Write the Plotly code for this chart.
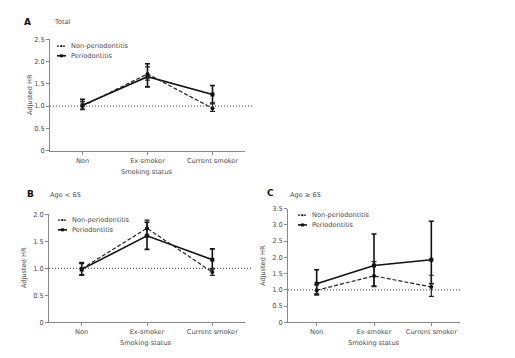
import plotly.graph_objects as go

categories = ["Non", "Ex-smoker", "Current smoker"]

# Panel A: Total
a_nonperio = [1.00, 1.72, 0.95]
a_nonperio_lo = [0.92, 1.58, 0.88]
a_nonperio_hi = [1.10, 1.88, 1.05]
a_perio = [1.02, 1.66, 1.26]
a_perio_lo = [0.93, 1.43, 1.07]
a_perio_hi = [1.15, 1.95, 1.46]

# Panel B: Age < 65
b_nonperio = [0.99, 1.74, 0.93]
b_nonperio_lo = [0.87, 1.60, 0.87]
b_nonperio_hi = [1.11, 1.89, 1.00]
b_perio = [0.98, 1.60, 1.16]
b_perio_lo = [0.88, 1.35, 0.99]
b_perio_hi = [1.09, 1.85, 1.36]

# Panel C: Age >= 65
c_nonperio = [0.99, 1.43, 1.09]
c_nonperio_lo = [0.84, 1.10, 0.80]
c_nonperio_hi = [1.16, 1.87, 1.45]
c_perio = [1.19, 1.75, 1.93]
c_perio_lo = [0.87, 1.12, 1.19]
c_perio_hi = [1.62, 2.72, 3.11]

a_yticks = [0, 0.5, 1.0, 1.5, 2.0, 2.5]
b_yticks = [0, 0.5, 1.0, 1.5, 2.0]
c_yticks = [0, 0.5, 1.0, 1.5, 2.0, 2.5, 3.0, 3.5]

FONT = "DejaVu Sans"
TXT = "#4a4a4a"
FS = 6.6
W, H = 515, 358

fig = go.Figure()

panels = [
    ("x", "y", a_nonperio, a_nonperio_lo, a_nonperio_hi, a_perio, a_perio_lo, a_perio_hi),
    ("x2", "y2", b_nonperio, b_nonperio_lo, b_nonperio_hi, b_perio, b_perio_lo, b_perio_hi),
    ("x3", "y3", c_nonperio, c_nonperio_lo, c_nonperio_hi, c_perio, c_perio_lo, c_perio_hi),
]

for xa, ya, np_, np_lo, np_hi, p, p_lo, p_hi in panels:
    idx = list(range(len(categories)))
    fig.add_trace(go.Scatter(
        x=idx, y=p, xaxis=xa, yaxis=ya, mode="lines+markers",
        line=dict(color="#111111", width=1.6, dash="solid"),
        marker=dict(symbol="square", size=4, color="#111111"),
        error_y=dict(type="data", symmetric=False,
                     array=[h - v for h, v in zip(p_hi, p)],
                     arrayminus=[v - l for v, l in zip(p, p_lo)],
                     color="#111111", thickness=1.6, width=2.5),
        showlegend=False, hoverinfo="skip"))
    fig.add_trace(go.Scatter(
        x=idx, y=np_, xaxis=xa, yaxis=ya, mode="lines+markers",
        line=dict(color="#222222", width=1.2, dash="4px,2px"),
        marker=dict(symbol="circle", size=4, color="#111111"),
        error_y=dict(type="data", symmetric=False,
                     array=[h - v for h, v in zip(np_hi, np_)],
                     arrayminus=[v - l for v, l in zip(np_, np_lo)],
                     color="#222222", thickness=1.2, width=2.5),
        showlegend=False, hoverinfo="skip"))

def px_x(v):
    return v / W

def px_y(v):
    return 1 - v / H

axis_common = dict(showgrid=False, zeroline=False, showline=True, linecolor="#888888",
                   linewidth=1, ticks="outside", ticklen=3, tickcolor="#888888",
                   tickfont=dict(family=FONT, size=FS, color=TXT))

dA_x = [px_x(50), px_x(245)]
dA_y = [px_y(150), px_y(36)]
dB_x = [px_x(49), px_x(245)]
dB_y = [px_y(325.7), px_y(215)]
dC_x = [px_x(288), px_x(460)]
dC_y = [px_y(325.7), px_y(209.3)]

xcommon = dict(axis_common, tickmode="array", tickvals=[0, 1, 2], ticktext=categories,
               range=[-0.5, 2.5])

fig.update_layout(
    width=W, height=H, margin=dict(l=0, r=0, t=0, b=0),
    paper_bgcolor="white", plot_bgcolor="white",
    font=dict(family=FONT, size=FS, color=TXT),
    xaxis=dict(xcommon, domain=dA_x, anchor="y"),
    yaxis=dict(axis_common, domain=dA_y, anchor="x", range=[0, 2.5], tickvals=a_yticks,
               ticktext=["0", "0.5", "1.0", "1.5", "2.0", "2.5"]),
    xaxis2=dict(xcommon, domain=dB_x, anchor="y2"),
    yaxis2=dict(axis_common, domain=dB_y, anchor="x2", range=[0, 2.0], tickvals=b_yticks,
                ticktext=["0", "0.5", "1.0", "1.5", "2.0"]),
    xaxis3=dict(xcommon, domain=dC_x, anchor="y3"),
    yaxis3=dict(axis_common, domain=dC_y, anchor="x3", range=[0, 3.5], tickvals=c_yticks,
                ticktext=["0", "0.5", "1.0", "1.5", "2.0", "2.5", "3.0", "3.5"]),
)

# reference lines at HR = 1
for xr, yr, ext in [("x", "y", 1.04), ("x2", "y2", 1.04), ("x3", "y3", 1.0)]:
    fig.add_shape(type="line", xref=f"{xr} domain", yref=yr, x0=0, x1=ext, y0=1, y1=1,
                  line=dict(color="#333333", width=1, dash="1px,2px"))

# axis titles
for t, x, y, ang in [("Adjusted HR", 30, 93, -90), ("Adjusted HR", 24, 270, -90),
                     ("Adjusted HR", 263, 268, -90),
                     ("Smoking status", 147, 172, 0), ("Smoking status", 146, 347, 0),
                     ("Smoking status", 374, 347, 0)]:
    fig.add_annotation(text=t, xref="paper", yref="paper", x=px_x(x), y=px_y(y),
                       showarrow=False, xanchor="center", yanchor="middle", textangle=ang,
                       font=dict(family=FONT, size=FS, color=TXT))

# panel letters and subtitles
annots = [
    ("A", 22, 18, True), ("Total", 52, 18, False),
    ("B", 25, 194, True), ("Age < 65", 48, 195, False),
    ("C", 265, 193, True), ("Age ≥ 65", 288, 195, False),
]
for t, x, y, bold in annots:
    fig.add_annotation(text=f"<b>{t}</b>" if bold else t, xref="paper", yref="paper",
                       x=px_x(x), y=px_y(y), showarrow=False, xanchor="left", yanchor="middle",
                       font=dict(family=FONT, size=9 if bold else FS, color="#111111" if bold else TXT))

# legends (manual, per panel)
legend_pos = [(57, 43, 53), (58, 221, 231), (298, 216, 226)]
for lx, y1, y2 in legend_pos:
    fig.add_shape(type="line", xref="paper", yref="paper", x0=px_x(lx), x1=px_x(lx + 9),
                  y0=px_y(y1), y1=px_y(y1), line=dict(color="#222222", width=1.2, dash="2px,1px"))
    fig.add_shape(type="circle", xref="paper", yref="paper", x0=px_x(lx + 3.5), x1=px_x(lx + 5.5),
                  y0=px_y(y1 - 1), y1=px_y(y1 + 1), fillcolor="#111111", line=dict(width=0))
    fig.add_annotation(text="Non-periodontitis", xref="paper", yref="paper", x=px_x(lx + 12),
                       y=px_y(y1), showarrow=False, xanchor="left", yanchor="middle",
                       font=dict(family=FONT, size=FS, color=TXT))
    fig.add_shape(type="line", xref="paper", yref="paper", x0=px_x(lx), x1=px_x(lx + 9),
                  y0=px_y(y2), y1=px_y(y2), line=dict(color="#111111", width=1.6))
    fig.add_shape(type="rect", xref="paper", yref="paper", x0=px_x(lx + 3), x1=px_x(lx + 6),
                  y0=px_y(y2 - 1.5), y1=px_y(y2 + 1.5), fillcolor="#111111", line=dict(width=0))
    fig.add_annotation(text="Periodontitis", xref="paper", yref="paper", x=px_x(lx + 12),
                       y=px_y(y2), showarrow=False, xanchor="left", yanchor="middle",
                       font=dict(family=FONT, size=FS, color=TXT))

fig.write_html("out.html", config={"displayModeBar": False},
               post_script="document.body.style.margin='0';")
